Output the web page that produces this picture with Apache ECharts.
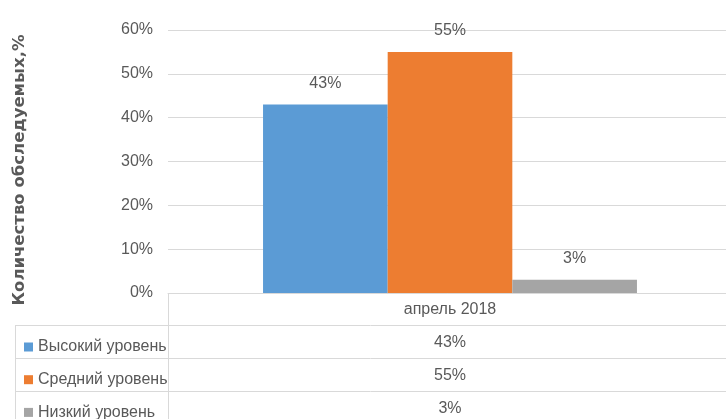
<!DOCTYPE html>
<html>
<head>
<meta charset="utf-8">
<script src="https://cdn.jsdelivr.net/npm/echarts@6/dist/echarts.min.js"></script>
<style>
  html, body { margin: 0; padding: 0; background: #fff; }
  #chart { width: 726px; height: 419px; }
</style>
</head>
<body>
<div id="chart"></div>
<script>
// данные
const categories = ['апрель 2018'];
const seriesNames = ['Высокий уровень', 'Средний уровень', 'Низкий уровень'];
const highValues = [43];
const midValues = [55];
const lowValues = [3];
const yTicks = [0, 10, 20, 30, 40, 50, 60];
const yTitle = 'Количество обследуемых,%';

const colors = ['#5B9BD5', '#ED7D31', '#A5A5A5'];
const textColor = '#595959';
const lineColor = '#D9D9D9';
const font = '"Liberation Sans", sans-serif';
const fs = 16;
const allValues = [highValues, midValues, lowValues];

const chart = echarts.init(document.getElementById('chart'), null, { renderer: 'canvas' });

// строки таблицы данных под осью — отдельные категорийные оси
const rowH = 32.7;
const tableAxes = allValues.map((vals, i) => ({
  type: 'category',
  data: vals.map(v => v + '%'),
  position: 'bottom',
  offset: rowH * (i + 1),
  axisLine: { show: false },
  axisTick: { show: false },
  axisLabel: { color: textColor, fontSize: fs, fontFamily: font, margin: 9 }
}));

// по одной легенде на строку таблицы
const legends = seriesNames.map((name, i) => ({
  left: 19,
  top: 334 + rowH * i,
  itemWidth: 9,
  itemHeight: 9,
  itemGap: 0,
  icon: 'rect',
  selectedMode: false,
  textStyle: { color: textColor, fontSize: fs, fontFamily: font },
  data: [name]
}));

const option = {
  animation: false,
  color: colors,
  grid: { left: 168, width: 564, top: 30, bottom: 126, outerBoundsMode: 'none' },
  legend: legends,
  xAxis: [{
    type: 'category',
    data: categories,
    axisLine: { lineStyle: { color: lineColor } },
    axisTick: { show: false },
    axisLabel: { color: textColor, fontSize: fs, fontFamily: font, margin: 9 }
  }].concat(tableAxes),
  yAxis: {
    type: 'value',
    min: yTicks[0],
    max: yTicks[yTicks.length - 1],
    interval: 10,
    axisLine: { show: false },
    axisTick: { show: false },
    axisLabel: { color: textColor, fontSize: fs, fontFamily: font, margin: 15, formatter: '{value}%' },
    splitLine: { lineStyle: { color: lineColor, width: 1 } }
  },
  series: allValues.map((vals, i) => ({
    name: seriesNames[i],
    type: 'bar',
    data: vals,
    barGap: '0%',
    barCategoryGap: '33.7%',
    label: {
      show: true,
      position: 'top',
      distance: 13,
      color: textColor,
      fontSize: fs,
      fontFamily: font,
      formatter: '{c}%'
    }
  })),
  graphic: [
    // подпись оси Y
    {
      type: 'text',
      x: 20,
      y: 170,
      rotation: Math.PI / 2,
      style: {
        text: yTitle,
        fill: textColor,
        font: 'bold 16.5px "DejaVu Sans", sans-serif',
        align: 'center',
        verticalAlign: 'middle'
      }
    },
    // рамка таблицы данных
    { type: 'line', shape: { x1: 168.5, y1: 293, x2: 168.5, y2: 419 }, style: { stroke: lineColor, lineWidth: 1 } },
    { type: 'line', shape: { x1: 15.5, y1: 325.5, x2: 15.5, y2: 419 }, style: { stroke: lineColor, lineWidth: 1 } },
    { type: 'line', shape: { x1: 15, y1: 325.5, x2: 726, y2: 325.5 }, style: { stroke: lineColor, lineWidth: 1 } },
    { type: 'line', shape: { x1: 15, y1: 358.5, x2: 726, y2: 358.5 }, style: { stroke: lineColor, lineWidth: 1 } },
    { type: 'line', shape: { x1: 15, y1: 391.5, x2: 726, y2: 391.5 }, style: { stroke: lineColor, lineWidth: 1 } }
  ]
};

chart.setOption(option);
</script>
</body>
</html>
